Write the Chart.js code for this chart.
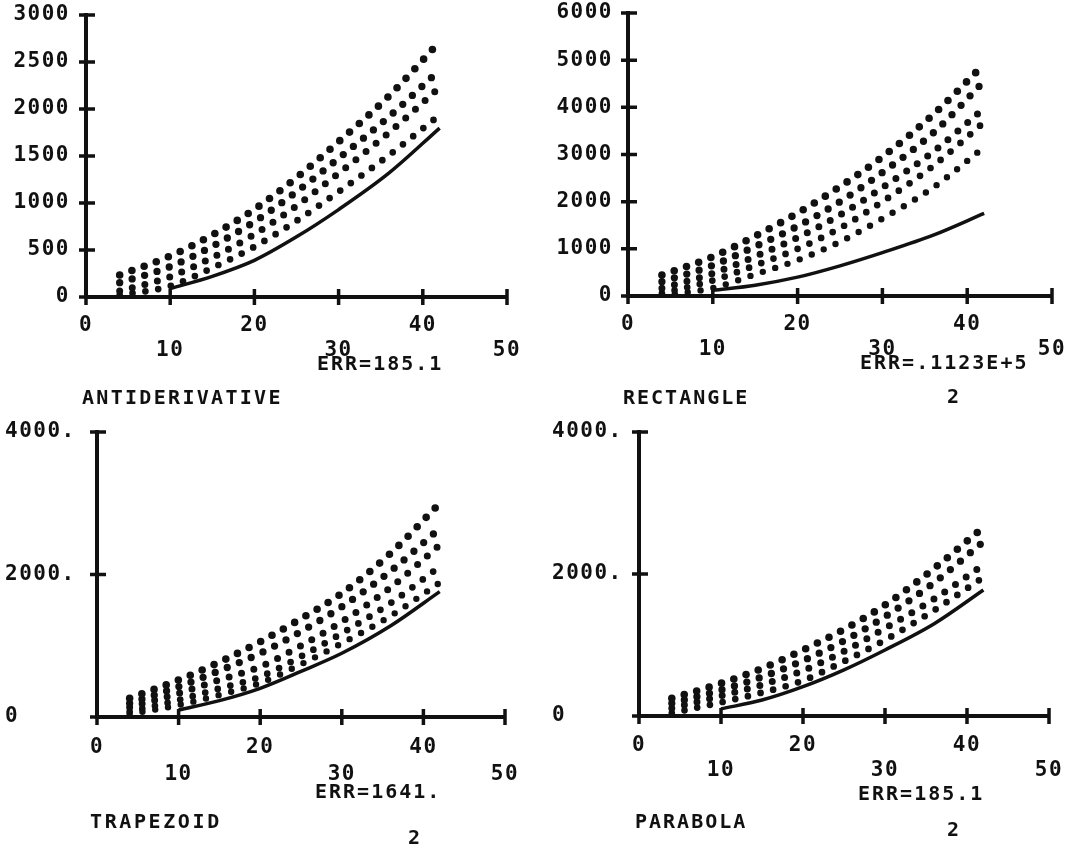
<!DOCTYPE html>
<html>
<head>
<meta charset="utf-8">
<script src="https://cdn.jsdelivr.net/npm/chart.js@4.4.1/dist/chart.umd.min.js"></script>
<style>
    body { margin: 0; background: #fff; width: 1091px; height: 846px; overflow: hidden; position: relative; }
    .box { position: absolute; }
    .lbl { position: absolute; font: bold 20px 'DejaVu Sans Mono', monospace; line-height: 20px; letter-spacing: 2px; color: #111; white-space: pre; }
</style>
</head>
<body>
<div class="box" style="left:0;top:0;width:545px;height:420px"><canvas id="c1"></canvas></div>
<div class="box" style="left:545px;top:0;width:546px;height:420px"><canvas id="c2"></canvas></div>
<div class="box" style="left:0;top:415px;width:545px;height:431px"><canvas id="c3"></canvas></div>
<div class="box" style="left:545px;top:415px;width:546px;height:431px"><canvas id="c4"></canvas></div>

<div class="lbl" style="left:317px;top:353px">ERR=185.1</div>
<div class="lbl" style="left:82px;top:387px;letter-spacing:2.3px">ANTIDERIVATIVE</div>

<div class="lbl" style="left:860px;top:352px">ERR=.1123E+5</div>
<div class="lbl" style="left:947px;top:386px">2</div>
<div class="lbl" style="left:623px;top:387px">RECTANGLE</div>

<div class="lbl" style="left:315px;top:781px">ERR=1641.</div>
<div class="lbl" style="left:90px;top:811px;letter-spacing:2.6px">TRAPEZOID</div>
<div class="lbl" style="left:408px;top:827px">2</div>

<div class="lbl" style="left:858px;top:783px">ERR=185.1</div>
<div class="lbl" style="left:635px;top:811px">PARABOLA</div>
<div class="lbl" style="left:947px;top:819px">2</div>

<script>
// valeurs
const xTicks = [0, 10, 20, 30, 40, 50];
const xTickLabels = ['0', '10', '20', '30', '40', '50'];

const dotX = [4, 10, 15, 20, 25, 30, 36, 42];
const solidX = [10, 15, 20, 25, 30, 36, 42];

// ANTIDERIVATIVE
const yTicks1 = [0, 500, 1000, 1500, 2000, 2500, 3000];
const yLabels1 = ['0', '500', '1000', '1500', '2000', '2500', '3000'];
const anti1 = [234, 436, 660, 933, 1270, 1652, 2140, 2716];
const anti2 = [152, 323, 540, 801, 1120, 1475, 1920, 2415];
const anti3 = [64, 216, 420, 667, 970, 1316, 1750, 2230];
const anti4 = [20, 117, 310, 535, 810, 1120, 1510, 1936];
const antiSolid = [90, 220, 390, 640, 930, 1320, 1797];

// RECTANGLE
const yTicks2 = [0, 1000, 2000, 3000, 4000, 5000, 6000];
const yLabels2 = ['0', '1000', '2000', '3000', '4000', '5000', '6000'];
const rect1 = [445, 833, 1270, 1758, 2320, 2950, 3850, 4915];
const rect2 = [303, 650, 1050, 1480, 2000, 2620, 3460, 4555];
const rect3 = [162, 480, 840, 1240, 1720, 2300, 3060, 3983];
const rect4 = [56, 330, 650, 1000, 1440, 2000, 2760, 3686];
const rect5 = [10, 170, 460, 760, 1150, 1640, 2300, 3157];
const rectSolid = [120, 230, 400, 640, 920, 1290, 1751];

// TRAPEZOID
const yTicks3 = [0, 2000, 4000];
const yLabels3 = ['0', '2000.', '4000.'];
const trap1 = [262, 519, 770, 1057, 1380, 1736, 2300, 2999];
const trap2 = [192, 425, 650, 894, 1200, 1548, 2050, 2648];
const trap3 = [136, 333, 520, 706, 1000, 1338, 1820, 2414];
const trap4 = [75, 239, 400, 566, 850, 1175, 1600, 2110];
const trap5 = [40, 168, 310, 477, 740, 1034, 1420, 1885];
const trapSolid = [98, 230, 403, 640, 894, 1280, 1759];

// PARABOLA
const yTicks4 = [0, 2000, 4000];
const yLabels4 = ['0', '2000.', '4000.'];
const para1 = [249, 460, 670, 930, 1220, 1563, 2080, 2658];
const para2 = [179, 366, 550, 780, 1060, 1399, 1880, 2455];
const para3 = [108, 286, 440, 640, 910, 1235, 1650, 2127];
const para4 = [42, 192, 330, 500, 770, 1070, 1490, 1953];
const paraSolid = [100, 225, 413, 650, 930, 1300, 1775];

const dotSizes = [7.6, 7.3, 7, 6.7, 6.4];

// traits des graduations qui traversent les axes
const crossTicks = {
    id: 'crossTicks',
    beforeDraw(chart) { chart.ctx.letterSpacing = '1.5px'; },
    afterDraw(chart) {
        const { ctx, chartArea: a } = chart;
        const sx = chart.scales.x, sy = chart.scales.y;
        ctx.save();
        ctx.letterSpacing = '0px';
        ctx.strokeStyle = '#111';
        ctx.lineWidth = 3.5;
        ctx.beginPath();
        sx.ticks.forEach(t => {
            const p = sx.getPixelForValue(t.value);
            ctx.moveTo(p, a.bottom - 8);
            ctx.lineTo(p, a.bottom + 8);
        });
        sy.ticks.forEach(t => {
            const p = sy.getPixelForValue(t.value);
            ctx.moveTo(a.left - 7, p);
            ctx.lineTo(a.left + 9, p);
        });
        ctx.stroke();
        ctx.restore();
    }
};

function pts(xs, ys) {
    return xs.map((x, i) => ({ x: x, y: ys[i] }));
}

function makeChart(id, rows, solid, yTicks, yLabels, p) {
    const datasets = rows.map((r, i) => ({
        data: pts(dotX, r),
        borderColor: '#111',
        borderWidth: dotSizes[i],
        borderDash: [0, 13],
        borderCapStyle: 'round',
        pointRadius: 0,
        cubicInterpolationMode: 'monotone',
        fill: false
    }));
    datasets.push({
        data: pts(solidX, solid),
        borderColor: '#111',
        borderWidth: 3.5,
        pointRadius: 0,
        cubicInterpolationMode: 'monotone',
        fill: false
    });

    const font = { family: "'DejaVu Sans Mono', monospace", size: 21, weight: 'bold', lineHeight: p.lh + 'px' };

    new Chart(document.getElementById(id), {
        type: 'line',
        data: { datasets: datasets },
        options: {
            responsive: true,
            maintainAspectRatio: false,
            animation: false,
            layout: { padding: p.pad },
            plugins: { legend: { display: false }, tooltip: { enabled: false } },
            scales: {
                x: {
                    type: 'linear',
                    min: 0,
                    max: 50,
                    afterFit: s => { s.height = p.xh; s.paddingLeft = 0; s.paddingRight = 0; },
                    afterBuildTicks: s => { s.ticks = xTicks.map(v => ({ value: v })); },
                    grid: { display: false, drawTicks: false },
                    border: { display: true, width: 4, color: '#111' },
                    ticks: {
                        color: '#111',
                        font: font,
                        padding: p.xPad,
                        maxRotation: 0,
                        autoSkip: false,
                        callback: (v, i) => i % 2 ? ['', xTickLabels[i]] : xTickLabels[i]
                    }
                },
                y: {
                    type: 'linear',
                    min: 0,
                    max: yTicks[yTicks.length - 1],
                    afterFit: s => { s.width = p.yw; s.paddingTop = 0; s.paddingBottom = 0; },
                    afterBuildTicks: s => { s.ticks = yTicks.map(v => ({ value: v })); },
                    grid: { display: false, drawTicks: false },
                    border: { display: true, width: 4, color: '#111' },
                    ticks: {
                        color: '#111',
                        font: Object.assign({}, font, { lineHeight: 1.2 }),
                        padding: p.yPad,
                        crossAlign: p.align,
                        autoSkip: false,
                        callback: (v, i) => yLabels[i]
                    }
                }
            }
        },
        plugins: [crossTicks]
    });
}

makeChart('c1', [anti1, anti2, anti3, anti4], antiSolid, yTicks1, yLabels1,
    { pad: { left: 0, top: 15, right: 38, bottom: 0 }, yw: 86, xh: 123, align: 'near', yPad: 16, xPad: 16, lh: 25 });
makeChart('c2', [rect1, rect2, rect3, rect4, rect5], rectSolid, yTicks2, yLabels2,
    { pad: { left: 0, top: 13, right: 39, bottom: 0 }, yw: 83, xh: 124, align: 'near', yPad: 15, xPad: 16, lh: 25 });
makeChart('c3', [trap1, trap2, trap3, trap4, trap5], trapSolid, yTicks3, yLabels3,
    { pad: { left: 5, top: 17, right: 40, bottom: 0 }, yw: 92, xh: 129, align: 'far', yPad: 15, xPad: 17, lh: 27 });
makeChart('c4', [para1, para2, para3, para4], paraSolid, yTicks4, yLabels4,
    { pad: { left: 7, top: 17, right: 42, bottom: 0 }, yw: 87, xh: 130, align: 'far', yPad: 15, xPad: 17, lh: 25 });
</script>
</body>
</html>
